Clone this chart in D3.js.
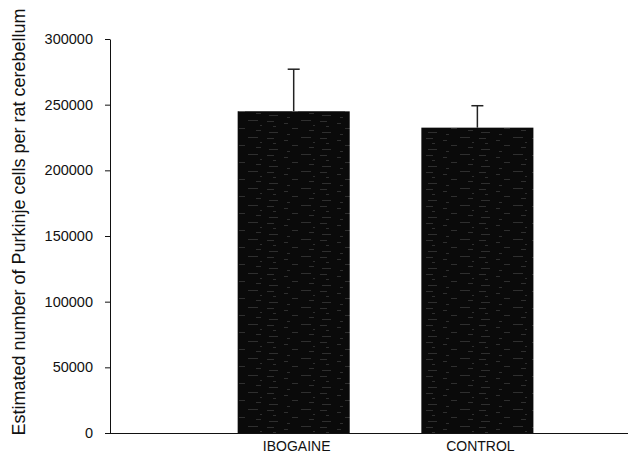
<!DOCTYPE html>
<head>
  <title>Purkinje cells</title>
  <meta charset="utf-8">
  <style>
    body { margin: 0; background: #fff; }
    text { font-family: Arial, "Liberation Sans", sans-serif; fill: #111; }
  </style>
</head>
<body>
  <svg width="629" height="456"></svg>
  <script src="https://d3js.org/d3.v7.min.js"></script>
  <script>
    // data
    var categories = ["IBOGAINE", "CONTROL"];
    var means = [245000, 232500];
    var errors = [32000, 16700];   // upper error bar only
    var yTicks = [0, 50000, 100000, 150000, 200000, 250000, 300000];
    var yTitle = "Estimated number of Purkinje cells per rat cerebellum";

    var svg = d3.select("svg");

    var x = d3.scaleLinear().domain([0, 2.82]).range([110, 628]);
    var y = d3.scaleLinear().domain([0, 300000]).range([433, 39]);
    var barW = 0.61;

    // faint scan speckle for the bars
    var defs = svg.append("defs");
    var pat = defs.append("pattern")
        .attr("id", "scan")
        .attr("patternUnits", "userSpaceOnUse")
        .attr("width", 53).attr("height", 17);
    pat.append("rect").attr("width", 53).attr("height", 17).attr("fill", "#0a0a0a");
    [[2, 2, 7], [19, 4, 4], [36, 1, 10], [8, 7, 3], [27, 9, 6], [44, 11, 5], [4, 13, 9], [22, 15, 3], [48, 6, 2]].forEach(function(s) {
      pat.append("rect").attr("x", s[0]).attr("y", s[1]).attr("width", s[2]).attr("height", 0.7)
        .attr("fill", "#fff").attr("opacity", 0.22);
    });

    var data = categories.map(function(c, i) { return {name: c, pos: i + 1, mean: means[i], err: errors[i]}; });

    // bars
    svg.append("g").selectAll("rect")
      .data(data)
      .enter().append("rect")
        .attr("x", function(d) { return x(d.pos - barW / 2); })
        .attr("width", function(d) { return x(d.pos + barW / 2) - x(d.pos - barW / 2); })
        .attr("y", function(d) { return y(d.mean); })
        .attr("height", function(d) { return y(0) - y(d.mean); })
        .attr("fill", "url(#scan)");

    // error bars (upper)
    var eb = svg.append("g").attr("stroke", "#222").attr("stroke-width", 1.5);
    eb.selectAll("line.v").data(data).enter().append("line")
        .attr("x1", function(d) { return x(d.pos); })
        .attr("x2", function(d) { return x(d.pos); })
        .attr("y1", function(d) { return y(d.mean); })
        .attr("y2", function(d) { return y(d.mean + d.err); });
    eb.selectAll("line.c").data(data).enter().append("line")
        .attr("x1", function(d) { return x(d.pos) - 6; })
        .attr("x2", function(d) { return x(d.pos) + 6; })
        .attr("y1", function(d) { return y(d.mean + d.err); })
        .attr("y2", function(d) { return y(d.mean + d.err); });

    // y axis
    var yAxis = svg.append("g")
        .attr("transform", "translate(110,0)")
        .call(d3.axisLeft(y).tickValues(yTicks).tickFormat(d3.format("d")).tickSize(5).tickPadding(12).tickSizeOuter(0));
    yAxis.selectAll("text").attr("font-size", 14.5).attr("font-family", "Arial, 'Liberation Sans', sans-serif").attr("fill", "#111");
    yAxis.selectAll("line, path").attr("stroke", "#111");

    // x axis baseline
    svg.append("line")
        .attr("x1", 105).attr("x2", x.range()[1])
        .attr("y1", y(0) + 0.5).attr("y2", y(0) + 0.5)
        .attr("stroke", "#111").attr("stroke-width", 1.2);

    // category labels
    svg.append("g").selectAll("text")
      .data(data)
      .enter().append("text")
        .attr("x", function(d) { return x(d.pos) + 3; })
        .attr("y", 451)
        .attr("text-anchor", "middle")
        .attr("font-size", 14)
        .text(function(d) { return d.name; });

    // y title
    svg.append("text")
        .attr("transform", "translate(25,222) rotate(-90)")
        .attr("text-anchor", "middle")
        .attr("font-size", 18)
        .text(yTitle);
  </script>
</body>
